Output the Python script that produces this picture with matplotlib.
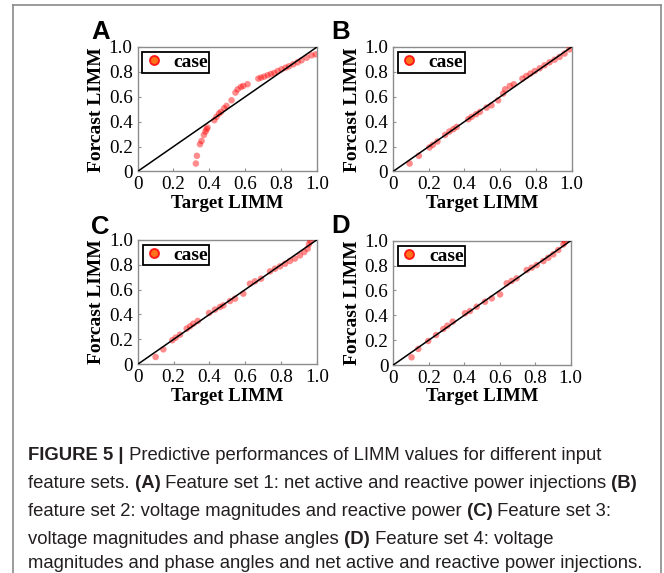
import matplotlib
matplotlib.use('Agg')
import matplotlib.pyplot as plt
from matplotlib.lines import Line2D
from matplotlib.ticker import FuncFormatter
from matplotlib import font_manager

# ---------------- data ----------------
a_target = [0.325, 0.331, 0.348, 0.357, 0.370, 0.379, 0.385, 0.390, 0.428, 0.440,
            0.454, 0.465, 0.483, 0.496, 0.524, 0.546, 0.558, 0.576, 0.589, 0.613,
            0.673, 0.688, 0.706, 0.725, 0.743, 0.762, 0.781, 0.803, 0.825, 0.844,
            0.868, 0.892, 0.914, 0.942, 0.970, 0.993]
a_forecast = [0.064, 0.126, 0.219, 0.246, 0.294, 0.321, 0.340, 0.353, 0.412, 0.439,
              0.465, 0.479, 0.508, 0.527, 0.572, 0.634, 0.660, 0.679, 0.687, 0.701,
              0.746, 0.754, 0.762, 0.773, 0.783, 0.791, 0.807, 0.821, 0.834, 0.845,
              0.861, 0.877, 0.893, 0.914, 0.933, 0.941]

b_target = [0.093, 0.145, 0.204, 0.223, 0.249, 0.292, 0.316, 0.338, 0.357, 0.422,
            0.440, 0.465, 0.487, 0.524, 0.552, 0.589, 0.617, 0.628, 0.654, 0.677,
            0.725, 0.747, 0.770, 0.794, 0.822, 0.849, 0.877, 0.905, 0.933, 0.961, 0.989]
b_forecast = [0.064, 0.126, 0.193, 0.214, 0.241, 0.294, 0.321, 0.340, 0.358, 0.420,
              0.439, 0.460, 0.479, 0.513, 0.532, 0.572, 0.626, 0.660, 0.687, 0.701,
              0.746, 0.767, 0.786, 0.807, 0.829, 0.853, 0.877, 0.898, 0.920, 0.947, 0.981]

c_target = [0.100, 0.143, 0.193, 0.212, 0.236, 0.273, 0.292, 0.310, 0.335, 0.398,
            0.431, 0.459, 0.478, 0.515, 0.543, 0.589, 0.626, 0.654, 0.688, 0.738,
            0.766, 0.794, 0.822, 0.849, 0.877, 0.905, 0.929, 0.948, 0.955, 0.963]
c_forecast = [0.059, 0.120, 0.193, 0.214, 0.238, 0.286, 0.305, 0.326, 0.348, 0.412,
              0.439, 0.460, 0.473, 0.508, 0.527, 0.567, 0.647, 0.666, 0.687, 0.746,
              0.767, 0.786, 0.807, 0.829, 0.848, 0.874, 0.901, 0.928, 0.963, 0.989]

d_target = [0.103, 0.141, 0.197, 0.241, 0.282, 0.305, 0.335, 0.404, 0.432, 0.470,
            0.517, 0.555, 0.602, 0.639, 0.667, 0.695, 0.752, 0.780, 0.808, 0.846,
            0.874, 0.902, 0.930, 0.959, 0.968]
d_forecast = [0.062, 0.129, 0.193, 0.241, 0.290, 0.316, 0.349, 0.416, 0.434, 0.469,
              0.509, 0.536, 0.568, 0.657, 0.676, 0.697, 0.764, 0.783, 0.804, 0.836,
              0.863, 0.890, 0.925, 0.970, 0.992]

diag = [0.0, 1.0]
tick_values = [0.0, 0.2, 0.4, 0.6, 0.8, 1.0]
panel_letters = ['A', 'B', 'C', 'D']
x_label = 'Target LIMM'
y_label = 'Forcast LIMM'
legend_label = 'case'

caption_lines = [
    [("FIGURE 5 |", True), (" Predictive performances of LIMM values for different input", False)],
    [("feature sets.", False), (" (A)", True), (" Feature set 1: net active and reactive power injections", False), (" (B)", True)],
    [("feature set 2: voltage magnitudes and reactive power", False), (" (C)", True), (" Feature set 3:", False)],
    [("voltage magnitudes and phase angles", False), (" (D)", True), (" Feature set 4: voltage", False)],
    [("magnitudes and phase angles and net active and reactive power injections.", False)],
]

# ---------------- layout ----------------
W, H = 664, 573
fig = plt.figure(figsize=(W / 100, H / 100), dpi=100)

serif = 'Liberation Serif'
names = {f.name for f in font_manager.fontManager.ttflist}
capfont = 'Liberation Sans Narrow' if 'Liberation Sans Narrow' in names else 'Liberation Sans'


def rect(l, r, t, b):
    return [l / W, 1 - b / H, (r - l) / W, (b - t) / H]


panel_rects = [rect(137.5, 317, 47, 171.5), rect(393, 571.5, 47, 171.5),
               rect(137.7, 317, 239.7, 364.3), rect(393.3, 570.7, 240.7, 365)]
letter_pos = [(91.5, 39), (331.5, 39), (91.5, 234), (331.5, 233)]
data = [(a_target, a_forecast), (b_target, b_forecast),
        (c_target, c_forecast), (d_target, d_forecast)]

fmt = FuncFormatter(lambda v, p: '0' if abs(v) < 1e-9 else f'{v:.1f}')

for (xs, ys), r, letter, (lx, ly) in zip(data, panel_rects, panel_letters, letter_pos):
    ax = fig.add_axes(r)
    ax.scatter(xs, ys, s=22, color=(1, 0, 0, 0.45), edgecolors='none', zorder=3)
    ax.plot(diag, diag, color='black', lw=1.1, zorder=4)
    ax.set_xlim(0, 1)
    ax.set_ylim(0, 1)
    ax.set_xticks(tick_values)
    ax.set_yticks(tick_values)
    ax.xaxis.set_major_formatter(fmt)
    ax.yaxis.set_major_formatter(fmt)
    ax.tick_params(direction='in', length=2, width=0.8, color='#909090',
                   labelsize=13.8, pad=3.5)
    for lab in ax.get_xticklabels() + ax.get_yticklabels():
        lab.set_family(serif)
    for sp in ax.spines.values():
        sp.set_color('#8c8c8c')
        sp.set_linewidth(1.0)
    ax.set_xlabel(x_label, family=serif, fontweight='bold', fontsize=13.5, labelpad=1)
    ax.set_ylabel(y_label, family=serif, fontweight='bold', fontsize=14.0, labelpad=2.5)
    handle = Line2D([], [], ls='none', marker='o', markersize=6.4,
                    markerfacecolor='#ff7418', markeredgecolor='#ff1a1a', markeredgewidth=1.4)
    leg = ax.legend([handle], [legend_label], loc='upper left',
                    prop={'family': serif, 'weight': 'bold', 'size': 14},
                    frameon=True, fancybox=False, framealpha=1, edgecolor='black',
                    borderpad=0.08, borderaxespad=0.25, handlelength=1.0,
                    handletextpad=0.5, labelspacing=0.2)
    leg.get_frame().set_linewidth(1.3)
    leg.set_zorder(5)
    fig.text(lx / W, 1 - ly / H, letter, family='Liberation Sans', fontweight='bold',
             fontsize=18.5, va='baseline', ha='left')

# outer frame (gray box)
frame_col = '#8a8a8a'
fig.add_artist(Line2D([12.5 / W, 12.5 / W], [0, 1 - 4.5 / H], transform=fig.transFigure,
                      color=frame_col, lw=1.2))
fig.add_artist(Line2D([12.5 / W, 660.8 / W], [1 - 4.5 / H, 1 - 4.5 / H], transform=fig.transFigure,
                      color=frame_col, lw=1.2))
fig.add_artist(Line2D([660.8 / W, 660.8 / W], [0, 1 - 4.5 / H], transform=fig.transFigure,
                      color=frame_col, lw=1.2))

# caption
renderer = fig.canvas.get_renderer()
cap_size = 13.3
baselines = [459.5, 487.5, 515.5, 543.5, 568]
for segs, base in zip(caption_lines, baselines):
    x = 28.0
    for txt, bold in segs:
        t = fig.text(x / W, 1 - base / H, txt, fontsize=cap_size, family=capfont,
                     fontweight='bold' if bold else 'normal', va='baseline', ha='left',
                     color='#231f20')
        x += t.get_window_extent(renderer).width

fig.savefig('out.png', dpi=100)
